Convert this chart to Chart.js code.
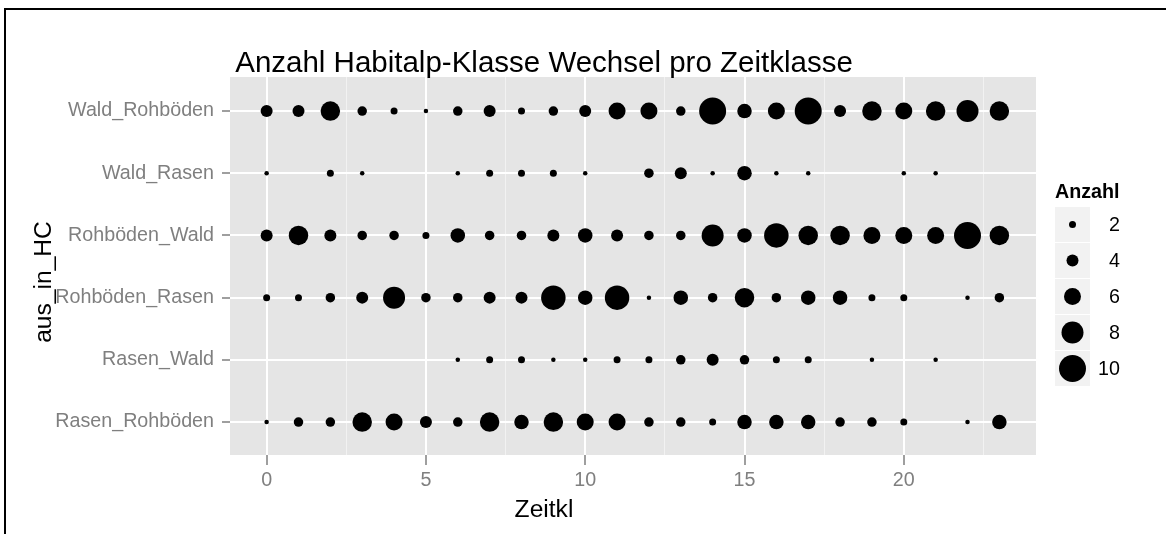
<!DOCTYPE html>
<html>
<head>
<meta charset="utf-8">
<script src="https://cdn.jsdelivr.net/npm/chart.js@4"></script>
<style>
  html, body { margin: 0; padding: 0; background: #fff; }
  #wrap { position: relative; width: 1166px; height: 534px; overflow: hidden; }
  #frame { position: absolute; left: 4px; top: 8px; width: 1300px; height: 700px; border: 2px solid #000; }
  #chart { position: absolute; left: 0; top: 0; }
</style>
</head>
<body>
<div id="wrap">
  <div id="frame"></div>
  <canvas id="chart" width="1166" height="534"></canvas>
</div>
<script>
// transitions, one row per "aus_in_HC" class (top to bottom)
const rows = ['Wald_Rohböden', 'Wald_Rasen', 'Rohböden_Wald', 'Rohböden_Rasen', 'Rasen_Wald', 'Rasen_Rohböden'];
const zeitkl = [0, 1, 2, 3, 4, 5, 6, 7, 8, 9, 10, 11, 12, 13, 14, 15, 16, 17, 18, 19, 20, 21, 22, 23];

// Anzahl per Zeitklasse (0 = no point)
const waldRohboeden  = [4, 4, 7, 3, 2, 1, 3, 4, 2, 3, 4, 6, 6, 3, 10, 5, 6, 10, 4, 7, 6, 7, 8, 7];
const waldRasen      = [1, 0, 2, 1, 0, 0, 1, 2, 2, 2, 1, 0, 3, 4, 1, 5, 1, 1, 0, 0, 1, 1, 0, 0];
const rohboedenWald  = [4, 7, 4, 3, 3, 2, 5, 3, 3, 4, 5, 4, 3, 3, 8, 5, 9, 7, 7, 6, 6, 6, 10, 7];
const rohboedenRasen = [2, 2, 3, 4, 8, 3, 3, 4, 4, 9, 5, 9, 1, 5, 3, 7, 3, 5, 5, 2, 2, 0, 1, 3];
const rasenWald      = [0, 0, 0, 0, 0, 0, 1, 2, 2, 1, 1, 2, 2, 3, 4, 3, 2, 2, 0, 1, 0, 1, 0, 0];
const rasenRohboeden = [1, 3, 3, 7, 6, 4, 3, 7, 5, 7, 6, 6, 3, 3, 2, 5, 5, 5, 3, 3, 2, 0, 1, 5];

const counts = [waldRohboeden, waldRasen, rohboedenWald, rohboedenRasen, rasenWald, rasenRohboeden];
const xTicks = [0, 5, 10, 15, 20];
const legendCounts = [2, 4, 6, 8, 10];

const FONT = "'Liberation Sans', Arial, sans-serif";
const GREY = '#7f7f7f';

// point radius grows linearly with the count (old ggplot size scale)
const sizeOf = n => 1 + 1.25 * n;

const points = [];
counts.forEach((series, row) => {
    series.forEach((n, i) => {
        if (n > 0) {
            points.push({ x: zeitkl[i], y: row, r: sizeOf(n), n: n });
        }
    });
});

const minorTicks = xTicks.map(v => v + 2.5);
const isMajor = v => xTicks.includes(v);

const ggDecor = {
    id: 'ggDecor',
    beforeDraw(chart) {
        const { ctx, chartArea: a } = chart;
        ctx.save();
        ctx.fillStyle = '#e5e5e5';
        ctx.fillRect(a.left, a.top, a.width, a.height);
        ctx.restore();
    },
    afterDraw(chart) {
        const { ctx } = chart;
        ctx.save();
        ctx.fillStyle = '#000';

        // main title
        ctx.font = `29.5px ${FONT}`;
        ctx.textAlign = 'center';
        ctx.textBaseline = 'alphabetic';
        ctx.fillText('Anzahl Habitalp-Klasse Wechsel pro Zeitklasse', 544, 72);

        // axis titles
        ctx.font = `24.6px ${FONT}`;
        ctx.fillText('Zeitkl', 544, 517);
        ctx.save();
        ctx.translate(51, 282);
        ctx.rotate(-Math.PI / 2);
        ctx.fillText('aus_in_HC', 0, 0);
        ctx.restore();

        // size legend
        ctx.textAlign = 'left';
        ctx.font = `bold 19.7px ${FONT}`;
        ctx.fillText('Anzahl', 1055, 198);
        ctx.font = `19.7px ${FONT}`;
        ctx.textAlign = 'right';
        ctx.textBaseline = 'middle';
        legendCounts.forEach((n, i) => {
            const top = 207 + i * 36;
            const cy = top + 17.5;
            ctx.fillStyle = '#f2f2f2';
            ctx.fillRect(1055, top, 35, 35);
            ctx.fillStyle = '#000';
            ctx.beginPath();
            ctx.arc(1072.5, cy, sizeOf(n), 0, Math.PI * 2);
            ctx.fill();
            ctx.fillText(String(n), 1120, cy + 1);
        });
        ctx.restore();
    }
};

new Chart(document.getElementById('chart'), {
    type: 'bubble',
    data: {
        datasets: [{
            data: points,
            backgroundColor: '#000',
            borderWidth: 0,
            hoverBorderWidth: 0
        }]
    },
    plugins: [ggDecor],
    options: {
        responsive: false,
        animation: false,
        devicePixelRatio: 1,
        layout: { padding: { top: 77, right: 130, left: 0, bottom: 0 } },
        plugins: {
            legend: { display: false },
            title: { display: false },
            tooltip: { enabled: false }
        },
        scales: {
            x: {
                type: 'linear',
                min: -1.15,
                max: 24.15,
                afterBuildTicks: scale => {
                    scale.ticks = [...xTicks, ...minorTicks].sort((a, b) => a - b).map(v => ({ value: v }));
                },
                afterFit: scale => { scale.height = 79; },
                border: { display: false },
                grid: {
                    color: ctx => isMajor(ctx.tick.value) ? '#ffffff' : '#f2f2f2',
                    lineWidth: ctx => isMajor(ctx.tick.value) ? 2 : 1,
                    tickColor: ctx => isMajor(ctx.tick.value) ? GREY : 'rgba(0,0,0,0)',
                    tickWidth: 1.5,
                    tickLength: 10
                },
                ticks: {
                    autoSkip: false,
                    maxRotation: 0,
                    padding: 4,
                    color: GREY,
                    font: { family: FONT, size: 19.7 },
                    callback: v => isMajor(v) ? String(v) : ''
                }
            },
            y: {
                type: 'linear',
                reverse: true,
                min: -0.547,
                max: 5.53,
                afterBuildTicks: scale => {
                    scale.ticks = rows.map((r, i) => ({ value: i }));
                },
                afterFit: scale => { scale.width = 230; },
                border: { display: false },
                grid: {
                    color: '#ffffff',
                    lineWidth: 2,
                    tickColor: GREY,
                    tickWidth: 1.5,
                    tickLength: 8
                },
                ticks: {
                    autoSkip: false,
                    padding: 8,
                    color: GREY,
                    font: { family: FONT, size: 19.7 },
                    callback: v => rows[v]
                }
            }
        }
    }
});
</script>
</body>
</html>
